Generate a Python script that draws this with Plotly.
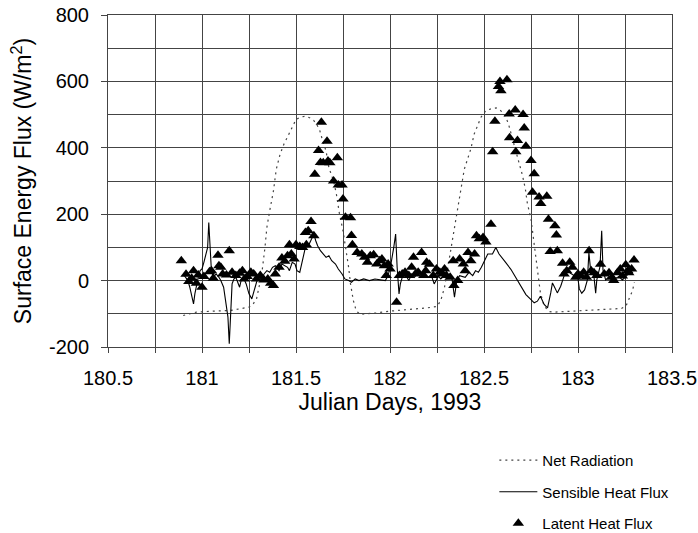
import plotly.graph_objects as go

# Net radiation (dotted)
net_day = [180.90, 180.97, 181.06, 181.15, 181.20, 181.25, 181.27, 181.29, 181.305, 181.32,
           181.335, 181.345, 181.36, 181.38, 181.395, 181.415, 181.435, 181.46, 181.48, 181.50,
           181.52, 181.55, 181.575, 181.595, 181.61, 181.625, 181.64, 181.66, 181.675, 181.70,
           181.715, 181.73, 181.75, 181.765, 181.78, 181.79, 181.805, 181.82, 181.84, 181.87,
           181.92, 182.0, 182.1, 182.2, 182.25, 182.27, 182.29, 182.31, 182.33, 182.345,
           182.36, 182.375, 182.395, 182.43, 182.448, 182.466, 182.484, 182.51, 182.54, 182.565,
           182.58, 182.60, 182.616, 182.63, 182.652, 182.678, 182.705, 182.72, 182.73, 182.75,
           182.767, 182.784, 182.80, 182.82, 182.846, 182.873, 182.96, 183.05, 183.14, 183.23,
           183.255, 183.27, 183.29, 183.30]
net_val = [-105, -95, -92, -90, -85, -80, -72, -55, -15, 30,
           100, 160, 210, 270, 335, 380, 410, 440, 462, 485,
           492, 495, 490, 482, 470, 455, 425, 390, 340, 300,
           260, 205, 150, 100, 40, -10, -60, -90, -102, -100,
           -98, -92, -88, -82, -78, -60, -20, 50, 120, 170,
           220, 275, 335, 397, 442, 467, 492, 512, 518, 520,
           516, 506, 492, 472, 427, 367, 316, 276, 235, 185,
           115, 35, -37, -77, -93, -95, -92, -89, -87, -84,
           -77, -57, -30, -5]

# Sensible heat flux (solid)
sens_day = [180.90, 180.915, 180.925, 180.935, 180.945, 180.955, 180.962, 180.97, 180.98, 180.99,
            181.0, 181.01, 181.02, 181.03, 181.036, 181.042, 181.05, 181.06, 181.075, 181.09,
            181.10, 181.115, 181.125, 181.138, 181.145, 181.152, 181.16, 181.17, 181.18, 181.19,
            181.20, 181.21, 181.22, 181.235, 181.25, 181.265, 181.28, 181.29, 181.30, 181.315,
            181.33, 181.345, 181.36, 181.375, 181.39, 181.41, 181.425, 181.44, 181.455, 181.465,
            181.48, 181.495, 181.505, 181.52, 181.535, 181.55, 181.57, 181.585, 181.595, 181.605,
            181.615, 181.63, 181.645, 181.66, 181.675, 181.69, 181.71, 181.725, 181.745, 181.76,
            181.78, 181.795, 181.815, 181.835, 181.86, 181.89, 181.92, 181.95, 181.975, 181.99,
            182.005, 182.02, 182.03, 182.038, 182.048, 182.055, 182.065, 182.08, 182.10, 182.115,
            182.13, 182.15, 182.168, 182.185, 182.20, 182.22, 182.235, 182.245, 182.256, 182.27,
            182.29, 182.31, 182.33, 182.343, 182.355, 182.37, 182.40, 182.42, 182.44, 182.455,
            182.47, 182.486, 182.50, 182.52, 182.545, 182.563, 182.58, 182.60, 182.616, 182.643,
            182.67, 182.696, 182.723, 182.75, 182.767, 182.784, 182.80, 182.82, 182.838, 182.855,
            182.864, 182.873, 182.89, 182.908, 182.926, 182.944, 182.96, 182.98, 183.0, 183.007,
            183.02, 183.035, 183.05, 183.058, 183.067, 183.085, 183.094, 183.10, 183.117, 183.126,
            183.133, 183.147, 183.165, 183.183, 183.20, 183.218, 183.236, 183.254, 183.27, 183.29]
sens_val = [20, 10, 0, -20, -45, -70, -40, -15, 10, 30,
            35, 55, 75, 100, 175, 100, 30, 10, 20, 10,
            0, -20, -60, -110, -190, -100, -10, 5, 10, -5,
            -20, 5, 10, -10, -40, -55, -20, -5, 10, 5,
            20, 30, 25, 40, 45, 30, 50, 45, 40, 30,
            55, 50, 30, 25, 60, 100, 110, 130, 140, 120,
            105, 90, 80, 70, 75, 60, 50, 35, 20, 5,
            0, -5, 5, 0, 5, 0, 5, 3, 0, 15,
            50, 100, 140, 40, -40, -10, 10, 20, 0, 20,
            10, 25, 15, 20, 10, 15, -10, 0, 15, 5,
            15, 10, 5, -50, 0, 15, 10, 25, 15, 30,
            25, 40, 55, 80, 80, 100, 80, 64, 54, 34,
            9, -17, -42, -57, -67, -62, -47, -72, -82, -37,
            -7, -17, -37, -17, 14, 34, 22, 15, 5, -25,
            -38, -28, 2, 85, 32, 12, -38, 2, 42, 150,
            32, 2, 12, -3, 7, 12, 2, 12, 22, 25]

# Latent heat flux (triangles)
lat_day = [180.89, 180.915, 180.93, 180.945, 180.955, 180.97, 180.98, 181.0, 181.01, 181.04,
           181.05, 181.06, 181.085, 181.09, 181.10, 181.11, 181.13, 181.145, 181.16, 181.18,
           181.20, 181.215, 181.225, 181.24, 181.26, 181.275, 181.29, 181.31, 181.33, 181.35,
           181.365, 181.38, 181.39, 181.41, 181.425, 181.44, 181.455, 181.465, 181.475, 181.49,
           181.50, 181.52, 181.535, 181.55, 181.555, 181.565, 181.58, 181.595, 181.60, 181.62,
           181.63, 181.635, 181.645, 181.665, 181.67, 181.68, 181.70, 181.72, 181.725, 181.745,
           181.75, 181.763, 181.79, 181.795, 181.80, 181.825, 181.85, 181.865, 181.88, 181.895,
           181.913, 181.93, 181.945, 181.957, 181.97, 181.98, 181.99, 182.0, 182.035, 182.05,
           182.065, 182.08, 182.10, 182.115, 182.125, 182.135, 182.15, 182.168, 182.18, 182.19,
           182.195, 182.21, 182.23, 182.247, 182.265, 182.28, 182.29, 182.30, 182.32, 182.336,
           182.34, 182.36, 182.37, 182.39, 182.40, 182.415, 182.43, 182.45, 182.46, 182.475,
           182.495, 182.51, 182.537, 182.546, 182.558, 182.577, 182.585, 182.59, 182.622, 182.634,
           182.636, 182.666, 182.669, 182.678, 182.708, 182.714, 182.723, 182.75, 182.767, 182.758,
           182.793, 182.802, 182.834, 182.843, 182.852, 182.877, 182.885, 182.89, 182.918, 182.926,
           182.94, 182.956, 182.97, 182.988, 183.0, 183.015, 183.03, 183.045, 183.059, 183.07,
           183.085, 183.1, 183.12, 183.14, 183.165, 183.18, 183.19, 183.21, 183.225, 183.236,
           183.254, 183.265, 183.27, 183.285, 183.298]
lat_val = [60, 19, -3, 7, 30, -8, 17, -20, 12, 27,
           30, 7, 76, 45, 40, 20, 17, 90, 25, 15,
           22, 30, 5, 12, 25, 20, 5, 15, 2, 5,
           -8, -15, 20, 40, 68, 58, 75, 108, 80, 65,
           108, 103, 100, 145, 108, 150, 178, 135, 320, 392,
           356, 477, 355, 420, 360, 355, 300, 370, 288, 288,
           246, 191, 189, 136, 108, 85, 80, 70, 55, 75,
           78, 50, 60, 65, 45, 15, 50, 35, -65, 15,
           20, 25, 15, 40, 70, 20, 25, 85, 15, 30,
           55, 49, 15, 35, 25, 20, 35, 15, 10, 60,
           -15, 0, 65, 50, 30, 85, 60, 80, 135, 126,
           130, 116, 170, 388, 480, 585, 600, 572, 605, 502,
           430, 514, 388, 422, 500, 460, 405, 362, 322, 266,
           252, 232, 254, 185, 88, 165, 137, 90, 52, 20,
           30, 55, 40, 10, 20, 14, 25, 10, 90, 30,
           24, 15, 49, 20, 24, 10, 0, 24, 35, 14,
           48, 30, 24, 35, 62]

y_tickvals = [-200, 0, 200, 400, 600, 800]
y_ticktext = ["-200", "0", "200", "400", "600", "800"]

FONT = "Liberation Sans, Arial, sans-serif"
GRID = "#444444"

fig = go.Figure()
fig.add_trace(go.Scatter(x=net_day, y=net_val, mode="lines", name="Net Radiation",
                         line=dict(color="#444444", width=1.2, dash="2px,4px"),
                         legendgroup="a"))
fig.add_trace(go.Scatter(x=sens_day, y=sens_val, mode="lines", name="Sensible Heat Flux",
                         line=dict(color="black", width=1.1),
                         legendgroup="b"))
fig.add_trace(go.Scatter(x=lat_day, y=lat_val, mode="markers", name="Latent Heat Flux",
                         marker=dict(symbol="triangle-up", size=10, color="black",
                                     line=dict(width=0)),
                         legendgroup="c"))

fig.update_layout(
    width=698, height=533,
    margin=dict(l=108, r=26, t=15, b=186, autoexpand=False),
    paper_bgcolor="white", plot_bgcolor="white",
    font=dict(family=FONT, color="black"),
    showlegend=True,
    legend=dict(x=0.685, y=-0.292, xanchor="left", yanchor="top",
                font=dict(size=15, family=FONT), tracegroupgap=9, itemwidth=38,
                traceorder="grouped", bgcolor="rgba(0,0,0,0)"),
)
fig.update_xaxes(
    range=[180.5, 183.5], tick0=180.5, dtick=0.5, automargin=False,
    ticklabeloverflow="allow",
    showgrid=True, gridcolor=GRID, gridwidth=1,
    minor=dict(dtick=0.25, showgrid=True, gridcolor=GRID, ticks="outside", ticklen=5, tickcolor=GRID),
    ticks="outside", ticklen=5, tickcolor=GRID, ticklabelstandoff=8,
    showline=True, linecolor=GRID, mirror=True,
    zeroline=False,
    tickfont=dict(size=20, family=FONT),
    title=dict(text="Julian Days, 1993", font=dict(size=23, family=FONT), standoff=1),
)
fig.update_yaxes(
    range=[-200, 800], tickvals=y_tickvals, ticktext=y_ticktext, automargin=False,
    showgrid=True, gridcolor=GRID, gridwidth=1,
    minor=dict(dtick=100, showgrid=True, gridcolor=GRID),
    ticks="outside", ticklen=6, tickcolor=GRID, ticklabelstandoff=8,
    showline=True, linecolor=GRID, mirror=True,
    zeroline=False,
    tickfont=dict(size=20, family=FONT),
    title=dict(text="Surface Energy Flux (W/m<sup>2</sup>)", font=dict(size=23, family=FONT), standoff=10),
)

fig.write_html("out.html", config={"displayModeBar": False},
               post_script="document.body.style.margin='0px';")
